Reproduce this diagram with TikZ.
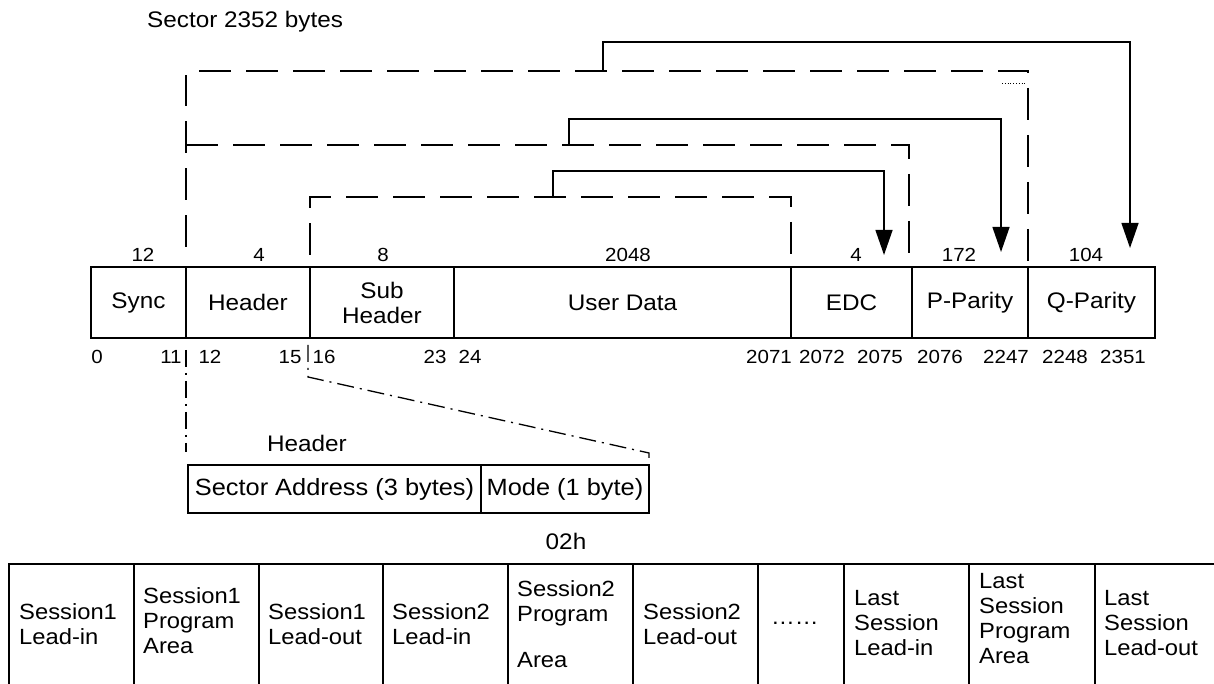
\documentclass[tikz,border=0pt]{standalone}
\usepackage{fontspec}
\setmainfont{Liberation Sans}[FakeStretch=1.08]
\usetikzlibrary{positioning}
\usetikzlibrary{arrows.meta}

\tikzset{
  field/.style={draw, line width=1.5pt, outer sep=0pt, inner sep=0pt,
    minimum height=71pt, anchor=west, align=center,
    font=\fontsize{22.5}{25}\selectfont},
  lbl/.style={inner sep=0pt, font=\fontsize{22.5}{25}\selectfont},
  count/.style={inner sep=0pt, font=\fontsize{19}{22}\selectfont},
  bracket/.style={line width=1.5pt, dash pattern=on 32pt off 15pt},
  feed/.style={line width=1.3pt, -{Triangle[length=25pt,width=17pt]}},
  zoomline/.style={line width=1.3pt, dash pattern=on 17pt off 6pt on 2pt off 6pt},
  cell/.style={anchor=west, align=left, inner sep=0pt,
    font=\fontsize{22}{25}\selectfont},
}

\begin{document}
\begin{tikzpicture}[x=1pt, y=1pt]
        \useasboundingbox (0,0) rectangle (1214,684);
        %title
        \node[lbl, anchor=west] (title) at (147,662) {Sector 2352 bytes};
        %sector fields
        \node[field, minimum width=95pt] (sync) at (91,381.5) {Sync};
        \node[field, minimum width=124pt, right=0pt of sync] (hdr) {Header};
        \node[field, minimum width=144pt, right=0pt of hdr] (sub) {Sub\\Header};
        \node[field, minimum width=337pt, right=0pt of sub] (user) {User Data};
        \node[field, minimum width=121pt, right=0pt of user] (edc) {EDC};
        \node[field, minimum width=116pt, right=0pt of edc] (pp) {P-Parity};
        \node[field, minimum width=127pt, right=0pt of pp] (qp) {Q-Parity};
        %field sizes
        \node[count] (n-sync) at (143,429) {12};
        \node[count] (n-hdr) at (259,429) {4};
        \node[count] (n-sub) at (383,429) {8};
        \node[count] (n-user) at (628,429) {2048};
        \node[count] (n-edc) at (856,429) {4};
        \node[count] (n-pp) at (959,429) {172};
        \node[count] (n-qp) at (1086,429) {104};
        %byte offsets
        \foreach \v/\x in {0/97, 11/171, 12/210, 15/290, 16/324, 23/435, 24/470,
                           2071/769, 2072/822, 2075/880, 2076/940, 2247/1006,
                           2248/1065, 2351/1123}
          \node[count] (o-\v) at (\x,327) {\v};
        %covered ranges
        \draw[bracket] ([yshift=20pt]sync.north east) -- ([yshift=192pt]sync.north east);
        \draw[bracket] ([xshift=13pt,yshift=196pt]sync.north east) -| ([yshift=2pt]pp.north east);
        \draw[bracket] ([yshift=122pt]sync.north east) -| ([xshift=-3pt,yshift=5pt]edc.north east);
        \draw[bracket] ([yshift=12pt]sub.north west) |- ([yshift=70pt]edc.north west)
              -- ([yshift=9pt]edc.north west);
        \draw[dotted, line width=0.8pt] ([xshift=-26pt,yshift=184pt]pp.north east) -- ++(25,0);
        %check fields fed from the ranges
        \coordinate (tapA) at (603,613);
        \coordinate (tapB) at (569,539);
        \coordinate (tapC) at (553,487);
        \coordinate (inQ) at ([xshift=-25pt,yshift=19pt]qp.north east);
        \coordinate (inP) at ([xshift=-27pt,yshift=15pt]pp.north east);
        \coordinate (inE) at ([xshift=-28pt,yshift=12pt]edc.north east);
        \draw[feed] (tapA) -- ++(0,29) -| (inQ);
        \draw[feed] (tapB) -- ++(0,26) -| (inP);
        \draw[feed] (tapC) -- ++(0,26) -| (inE);
        %header detail
        \node[lbl] (hdr-title) at (307,241) {Header};
        \node[draw, line width=1.5pt, outer sep=0pt, inner sep=0pt, minimum width=293pt,
              minimum height=48pt, anchor=north west, font=\fontsize{23.5}{26}\selectfont]
              (addr) at (188,219) {Sector Address (3 bytes)};
        \node[draw, line width=1.5pt, outer sep=0pt, inner sep=0pt, minimum width=168pt,
              minimum height=48pt, right=0pt of addr, font=\fontsize{23.5}{26}\selectfont]
              (mode) {Mode (1 byte)};
        \node[lbl] (mode-val) at (566,143) {02h};
        \draw[zoomline] ([yshift=-12pt]hdr.south west) -- ++(0,-102);
        \draw[zoomline] ([xshift=-2pt,yshift=-7pt]hdr.south east) -- ++(0,-32)
              -- ([yshift=12pt]mode.north east) -- ([yshift=7pt]mode.north east);
        %session layout
        \draw[line width=1.5pt] (9,0) |- (1216,120);
        \foreach \x in {134,259,383,508,633,758,844,969,1095}
          \draw[line width=1.5pt] (\x,0) -- (\x,120);
        \node[cell] (s1-in) at (19,59.5) {Session1\\Lead-in};
        \node[cell] (s1-pa) at (143,63) {Session1\\Program\\Area};
        \node[cell] (s1-out) at (268,59.5) {Session1\\Lead-out};
        \node[cell] (s2-in) at (392,59.5) {Session2\\Lead-in};
        \node[cell] (s2-pa) at (517,60) {Session2\\Program\\[21pt]Area};
        \node[cell] (s2-out) at (643,59.5) {Session2\\Lead-out};
        \node[cell] (more) at (771,61) {……};
        \node[cell] (ls-in) at (854,61) {Last\\Session\\Lead-in};
        \node[cell] (ls-pa) at (979,65) {Last\\Session\\Program\\Area};
        \node[cell] (ls-out) at (1104,61) {Last\\Session\\Lead-out};
      \end{tikzpicture}
\end{document}
